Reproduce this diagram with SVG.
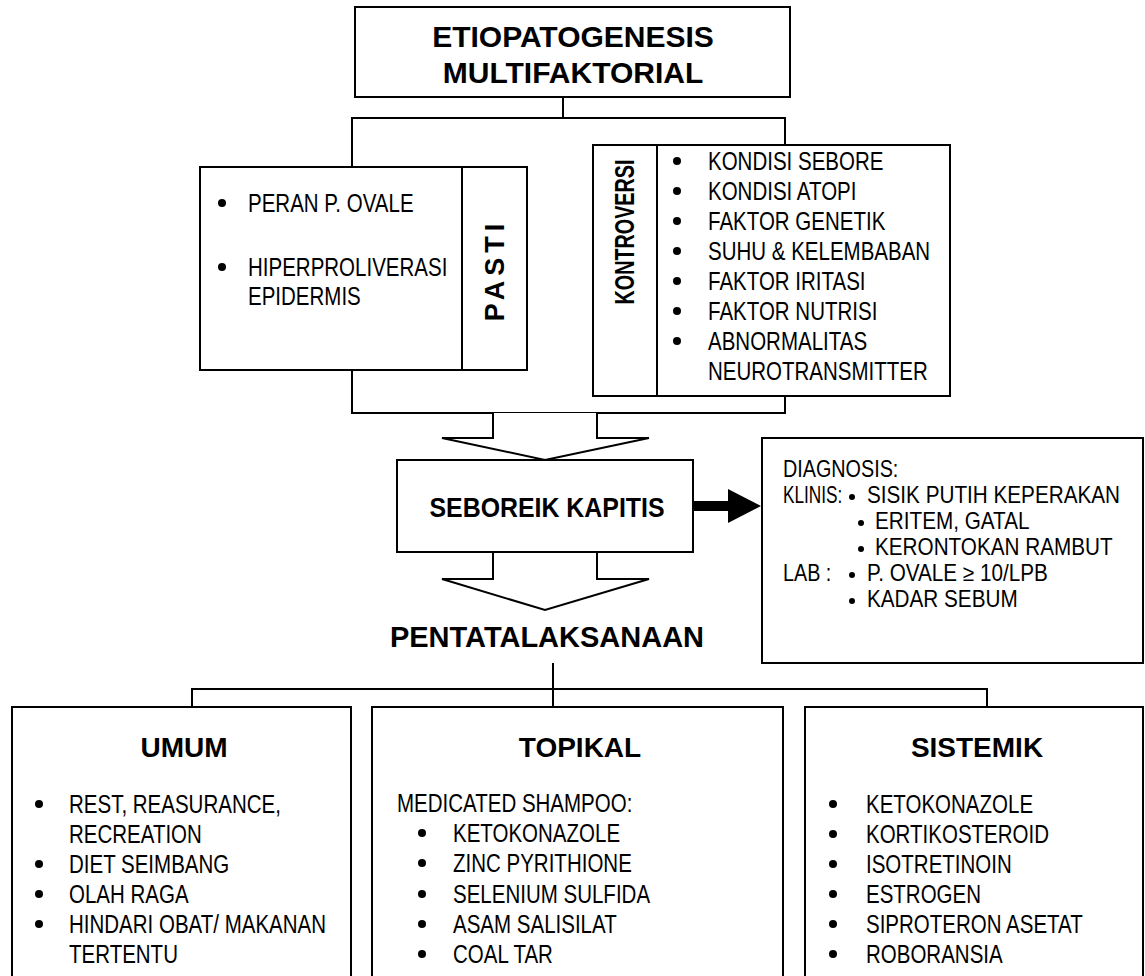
<svg xmlns="http://www.w3.org/2000/svg" width="1145" height="976" viewBox="0 0 1145 976">
<style>
  .box { fill: #fff; stroke: #000; stroke-width: 2; }
  .ln { fill: none; stroke: #000; stroke-width: 2; }
  .hollow { fill: #fff; stroke: #000; stroke-width: 2; stroke-linejoin: miter; }
  .solid { fill: #000; stroke: none; }
  .t { font-family: "Liberation Sans", Arial, sans-serif; font-weight: bold; fill: #000; text-anchor: middle; }
  .it { font-family: "Liberation Sans", Arial, sans-serif; font-size: 25px; fill: #000; }
  .dg { font-family: "Liberation Sans", Arial, sans-serif; font-size: 23px; fill: #000; }
  .b { fill: #000; }
</style>
<rect width="1145" height="976" fill="#fff"/>

<g id="connectors">
  <line class="ln" x1="563" y1="97" x2="563" y2="118"/>
  <rect class="ln" x="352" y="118" width="433" height="295"/>
  <path class="hollow" d="M493,413 V438 H442 L545,460 L649,438 H597 V413"/>
  <path class="solid" d="M693,501 H728 V489 L761,506 L728,523 V511 H693 Z"/>
  <path class="hollow" d="M493,552 V579 H442 L545,610 L649,579 H597 V552"/>
  <path class="ln" d="M192,707 V689 H987 V707"/>
  <line class="ln" x1="553" y1="663" x2="553" y2="707"/>
</g>

<g id="node-etiopatogenesis">
  <rect class="box" x="355" y="7" width="435" height="90"/>
  <text class="t" x="573" y="47" font-size="30">ETIOPATOGENESIS</text>
  <text class="t" x="573" y="83" font-size="30">MULTIFAKTORIAL</text>
</g>

<g id="node-pasti">
  <rect class="box" x="200" y="167" width="327" height="203"/>
  <line class="ln" x1="462" y1="167" x2="462" y2="370"/>
  <circle class="b" cx="222" cy="203" r="4"/>
  <text class="it" transform="translate(248 212) scale(.82 1)">PERAN P. OVALE</text>
  <circle class="b" cx="222" cy="267" r="4"/>
  <text class="it" transform="translate(248 276) scale(.82 1)">HIPERPROLIVERASI</text>
  <text class="it" transform="translate(248 305) scale(.82 1)">EPIDERMIS</text>
  <text class="t" font-size="27" letter-spacing="5" transform="translate(504 270) rotate(-90)">PASTI</text>
</g>

<g id="node-kontroversi">
  <rect class="box" x="593" y="145" width="357" height="251"/>
  <line class="ln" x1="657" y1="145" x2="657" y2="396"/>
  <text class="t" font-size="27" textLength="145" lengthAdjust="spacingAndGlyphs" transform="translate(634 232) rotate(-90)">KONTROVERSI</text>
  <circle class="b" cx="677" cy="161" r="4"/>
  <text class="it" transform="translate(708 170) scale(.82 1)">KONDISI SEBORE</text>
  <circle class="b" cx="677" cy="191" r="4"/>
  <text class="it" transform="translate(708 200) scale(.82 1)">KONDISI ATOPI</text>
  <circle class="b" cx="677" cy="221" r="4"/>
  <text class="it" transform="translate(708 230) scale(.82 1)">FAKTOR GENETIK</text>
  <circle class="b" cx="677" cy="251" r="4"/>
  <text class="it" transform="translate(708 260) scale(.82 1)">SUHU &amp; KELEMBABAN</text>
  <circle class="b" cx="677" cy="281" r="4"/>
  <text class="it" transform="translate(708 290) scale(.82 1)">FAKTOR IRITASI</text>
  <circle class="b" cx="677" cy="311" r="4"/>
  <text class="it" transform="translate(708 320) scale(.82 1)">FAKTOR NUTRISI</text>
  <circle class="b" cx="677" cy="341" r="4"/>
  <text class="it" transform="translate(708 350) scale(.82 1)">ABNORMALITAS</text>
  <text class="it" transform="translate(708 380) scale(.82 1)">NEUROTRANSMITTER</text>
</g>

<g id="node-seboreik">
  <rect class="box" x="397" y="460" width="296" height="92"/>
  <text class="t" x="547" y="517" font-size="28" textLength="235" lengthAdjust="spacingAndGlyphs">SEBOREIK KAPITIS</text>
</g>

<g id="node-diagnosis">
  <rect class="box" x="762" y="438" width="381" height="225"/>
  <text class="dg" transform="translate(783 477) scale(.86 1)">DIAGNOSIS:</text>
  <text class="dg" transform="translate(783 503) scale(.75 1)">KLINIS:</text>
  <circle class="b" cx="852" cy="497" r="3"/>
  <text class="dg" transform="translate(867 503) scale(.9 1)">SISIK PUTIH KEPERAKAN</text>
  <circle class="b" cx="861" cy="523" r="3"/>
  <text class="dg" transform="translate(875 529) scale(.9 1)">ERITEM, GATAL</text>
  <circle class="b" cx="861" cy="549" r="3"/>
  <text class="dg" transform="translate(875 555) scale(.9 1)">KERONTOKAN RAMBUT</text>
  <text class="dg" transform="translate(783 581) scale(.86 1)">LAB :</text>
  <circle class="b" cx="852" cy="575" r="3"/>
  <text class="dg" transform="translate(867 581) scale(.9 1)">P. OVALE ≥ 10/LPB</text>
  <circle class="b" cx="852" cy="601" r="3"/>
  <text class="dg" transform="translate(867 607) scale(.9 1)">KADAR SEBUM</text>
</g>

<g id="node-pentatalaksanaan">
  <text class="t" x="547" y="647" font-size="29">PENTATALAKSANAAN</text>
</g>

<g id="node-umum">
  <rect class="box" x="12" y="707" width="339" height="280"/>
  <text class="t" x="184" y="757" font-size="28">UMUM</text>
  <circle class="b" cx="39" cy="804" r="4"/>
  <text class="it" transform="translate(69 813) scale(.82 1)">REST, REASURANCE,</text>
  <text class="it" transform="translate(69 843) scale(.82 1)">RECREATION</text>
  <circle class="b" cx="39" cy="864" r="4"/>
  <text class="it" transform="translate(69 873) scale(.82 1)">DIET SEIMBANG</text>
  <circle class="b" cx="39" cy="894" r="4"/>
  <text class="it" transform="translate(69 903) scale(.82 1)">OLAH RAGA</text>
  <circle class="b" cx="39" cy="924" r="4"/>
  <text class="it" transform="translate(69 933) scale(.82 1)">HINDARI OBAT/ MAKANAN</text>
  <text class="it" transform="translate(69 963) scale(.82 1)">TERTENTU</text>
</g>

<g id="node-topikal">
  <rect class="box" x="372" y="707" width="411" height="280"/>
  <text class="t" x="580" y="757" font-size="28">TOPIKAL</text>
  <text class="it" transform="translate(397 812) scale(.82 1)">MEDICATED SHAMPOO:</text>
  <circle class="b" cx="422" cy="833" r="4"/>
  <text class="it" transform="translate(453 842) scale(.82 1)">KETOKONAZOLE</text>
  <circle class="b" cx="422" cy="863" r="4"/>
  <text class="it" transform="translate(453 872) scale(.82 1)">ZINC PYRITHIONE</text>
  <circle class="b" cx="422" cy="894" r="4"/>
  <text class="it" transform="translate(453 903) scale(.82 1)">SELENIUM SULFIDA</text>
  <circle class="b" cx="422" cy="924" r="4"/>
  <text class="it" transform="translate(453 933) scale(.82 1)">ASAM SALISILAT</text>
  <circle class="b" cx="422" cy="954" r="4"/>
  <text class="it" transform="translate(453 963) scale(.82 1)">COAL TAR</text>
</g>

<g id="node-sistemik">
  <rect class="box" x="805" y="707" width="338" height="280"/>
  <text class="t" x="977" y="757" font-size="28">SISTEMIK</text>
  <circle class="b" cx="833" cy="804" r="4"/>
  <text class="it" transform="translate(866 813) scale(.82 1)">KETOKONAZOLE</text>
  <circle class="b" cx="833" cy="834" r="4"/>
  <text class="it" transform="translate(866 843) scale(.82 1)">KORTIKOSTEROID</text>
  <circle class="b" cx="833" cy="864" r="4"/>
  <text class="it" transform="translate(866 873) scale(.82 1)">ISOTRETINOIN</text>
  <circle class="b" cx="833" cy="894" r="4"/>
  <text class="it" transform="translate(866 903) scale(.82 1)">ESTROGEN</text>
  <circle class="b" cx="833" cy="924" r="4"/>
  <text class="it" transform="translate(866 933) scale(.82 1)">SIPROTERON ASETAT</text>
  <circle class="b" cx="833" cy="954" r="4"/>
  <text class="it" transform="translate(866 963) scale(.82 1)">ROBORANSIA</text>
</g>
</svg>
